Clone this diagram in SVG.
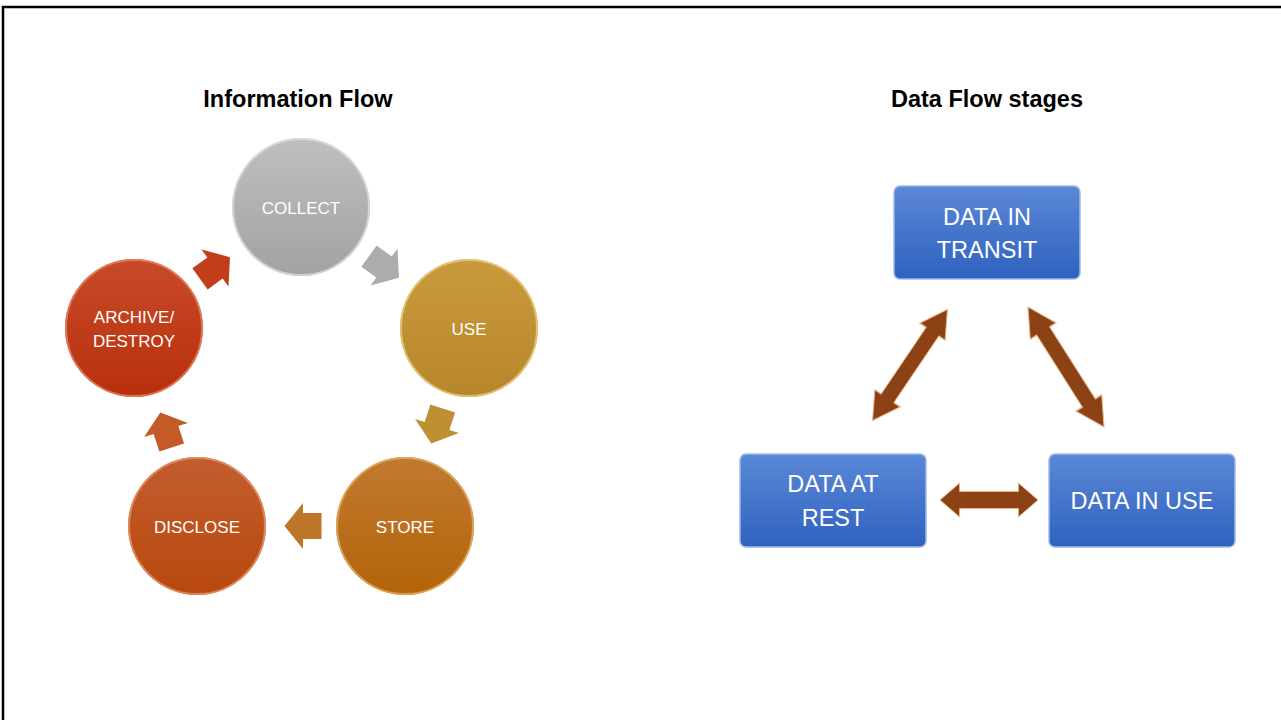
<svg xmlns="http://www.w3.org/2000/svg" width="1281" height="720" viewBox="0 0 1281 720">
<defs>
<style>
.title{font-family:"Liberation Sans",Arial,sans-serif;font-weight:bold;font-size:23.5px;fill:#000;text-anchor:middle}
.ct{font-family:"Liberation Sans",Arial,sans-serif;font-size:17px;fill:#fff;text-anchor:middle}
.bt{font-family:"Liberation Sans",Arial,sans-serif;font-size:23.5px;fill:#fff;text-anchor:middle}
.box{stroke:#9dbbea;stroke-width:1.5}
.ring{fill:none;stroke-width:2;stroke-opacity:0.75}
.dbl{fill:#8c4214;stroke:#e8b88a;stroke-width:1}
</style>
<linearGradient id="gGray" x1="0" y1="0" x2="0" y2="1"><stop offset="0" stop-color="#bfbfbf"/><stop offset="1" stop-color="#a2a2a2"/></linearGradient>
<linearGradient id="gUse" x1="0" y1="0" x2="0" y2="1"><stop offset="0" stop-color="#c99a3c"/><stop offset="1" stop-color="#b8862a"/></linearGradient>
<linearGradient id="gStore" x1="0" y1="0" x2="0" y2="1"><stop offset="0" stop-color="#c07a30"/><stop offset="1" stop-color="#b36408"/></linearGradient>
<linearGradient id="gDisc" x1="0" y1="0" x2="0" y2="1"><stop offset="0" stop-color="#c25d30"/><stop offset="1" stop-color="#b9480c"/></linearGradient>
<linearGradient id="gArch" x1="0" y1="0" x2="0" y2="1"><stop offset="0" stop-color="#c84a28"/><stop offset="1" stop-color="#b8300c"/></linearGradient>
<linearGradient id="gBox" x1="0" y1="0" x2="0" y2="1"><stop offset="0" stop-color="#5b88d6"/><stop offset="1" stop-color="#2f62c0"/></linearGradient>
<polygon id="blk" points="-18.5,-13 0,-13 0,-23 18.5,0 0,23 0,13 -18.5,13"/>
<polygon id="dbl" points="-50,0 -30,-17 -30,-8.5 30,-8.5 30,-17 50,0 30,17 30,8.5 -30,8.5 -30,17"/>
</defs>
<rect width="1281" height="720" fill="#fff"/>
<path d="M3,720 V7 H1281" fill="none" stroke="#000" stroke-width="2.5"/>

<text class="title" x="298" y="107">Information Flow</text>
<text class="title" x="987" y="107">Data Flow stages</text>

<g id="connectors">
<use href="#blk" transform="translate(384,267) rotate(36)" fill="#acacac"/>
<use href="#blk" transform="translate(437,426) rotate(108)" fill="#bf9032"/>
<use href="#blk" transform="translate(303,526) rotate(180)" fill="#c0762a"/>
<use href="#blk" transform="translate(166,430) rotate(-108)" fill="#c45a28"/>
<use href="#blk" transform="translate(215,268) rotate(-36)" fill="#c23e1a"/>
<use href="#dbl" class="dbl" transform="translate(910,365) rotate(-56) scale(1.34,0.9)"/>
<use href="#dbl" class="dbl" transform="translate(1066,367) rotate(57.6) scale(1.42,0.9)"/>
<use href="#dbl" class="dbl" transform="translate(989,500) scale(0.98,1)"/>
</g>

<g id="collect">
<circle cx="301" cy="207" r="69" fill="url(#gGray)"/>
<circle cx="301" cy="207" r="68" class="ring" stroke="#e0e0e0"/>
<text class="ct" x="301" y="214">COLLECT</text>
</g>
<g id="use">
<circle cx="469" cy="328" r="69" fill="url(#gUse)"/>
<circle cx="469" cy="328" r="68" class="ring" stroke="#ecd08a"/>
<text class="ct" x="469" y="335">USE</text>
</g>
<g id="store">
<circle cx="405" cy="526" r="69" fill="url(#gStore)"/>
<circle cx="405" cy="526" r="68" class="ring" stroke="#e8b070"/>
<text class="ct" x="405" y="533">STORE</text>
</g>
<g id="disclose">
<circle cx="197" cy="526" r="69" fill="url(#gDisc)"/>
<circle cx="197" cy="526" r="68" class="ring" stroke="#e49a70"/>
<text class="ct" x="197" y="533">DISCLOSE</text>
</g>
<g id="archive">
<circle cx="134" cy="328" r="69" fill="url(#gArch)"/>
<circle cx="134" cy="328" r="68" class="ring" stroke="#e48a68"/>
<text class="ct" x="134" y="323">ARCHIVE/</text>
<text class="ct" x="134" y="347">DESTROY</text>
</g>

<g id="transit">
<rect x="894" y="186" width="186" height="93" rx="6" fill="url(#gBox)" class="box"/>
<text class="bt" x="987" y="225">DATA IN</text>
<text class="bt" x="987" y="258">TRANSIT</text>
</g>
<g id="rest">
<rect x="740" y="454" width="186" height="93" rx="6" fill="url(#gBox)" class="box"/>
<text class="bt" x="833" y="492">DATA AT</text>
<text class="bt" x="833" y="526">REST</text>
</g>
<g id="inuse">
<rect x="1049" y="454" width="186" height="93" rx="6" fill="url(#gBox)" class="box"/>
<text class="bt" x="1142" y="509">DATA IN USE</text>
</g>
</svg>
